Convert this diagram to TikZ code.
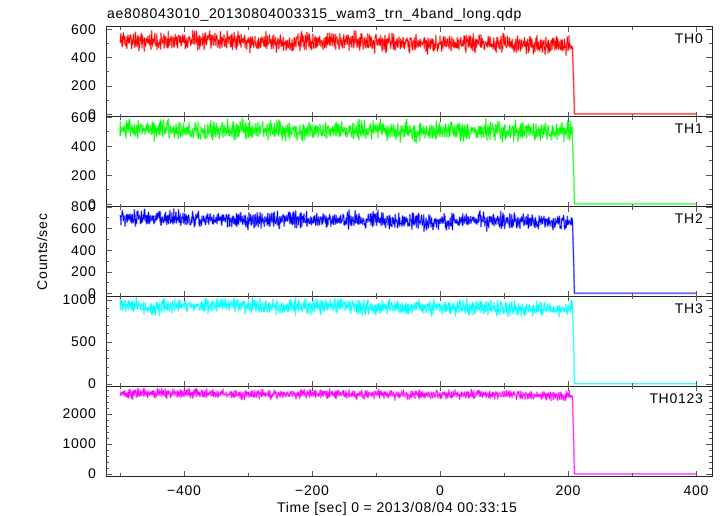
\documentclass[tikz,border=0pt]{standalone}
\usepackage{fontspec}
\setmainfont{Liberation Sans}[LetterSpace=5]
\definecolor{qred}{RGB}{255,0,0}
\definecolor{qgreen}{RGB}{0,255,0}
\definecolor{qblue}{RGB}{0,0,255}
\definecolor{qcyan}{RGB}{0,255,255}
\definecolor{qmag}{RGB}{255,0,255}
\tikzset{
 frameline/.style={draw=black!85, line width=1pt},
 tickline/.style={draw=black!65, line width=0.8pt},
 ylab/.style={anchor=east, inner sep=0pt},
 xlab/.style={anchor=base, inner sep=0pt},
 thlab/.style={anchor=base east, inner sep=0pt},
}
\newcommand\yticksp[5]{%
 \foreach \v in {0,#3,...,#4}{%
  \pgfmathsetmacro\L{ifthenelse(mod(\v,#5)==0,6,3)}%
  \draw[tickline] (106,{#1-#2*\v}) -- ++(\L,0);
  \draw[tickline] (712,{#1-#2*\v}) -- ++(-\L,0);
 }}
\newcommand\lcurve[7]{%
 \pgfmathsetseed{#2}%
 \draw[#1!40, line width=1.8pt, line join=round] plot[domain=-500:207, samples=1415] ({440+0.64*\x},{#3-#4*(#5+#6*(rand+rand+rand))}) -- ({440+0.64*209},{#3-#4*#7}) -- ({440+0.64*210},{#3-#4*3}) -- ({440+0.64*401},{#3-#4*3});
 \pgfmathsetseed{#2}%
 \draw[#1, line width=0.55pt, line join=round] plot[domain=-500:207, samples=1415] ({440+0.64*\x},{#3-#4*(#5+#6*(rand+rand+rand))}) -- ({440+0.64*209},{#3-#4*#7}) -- ({440+0.64*210},{#3-#4*3}) -- ({440+0.64*401},{#3-#4*3});
}
\begin{document}
\begin{tikzpicture}[x=1pt,y=-1pt,font=\fontsize{14}{16}\selectfont]
\path[use as bounding box, fill=white] (0,0) rectangle (723,516);
% data
\begin{scope}\clip (106,27) rectangle (712,116.8);
\lcurve{qred}{11}{114.3}{0.1415}{(528-0.055*(\x+500)+6*sin(1.7*\x))}{30}{190}
\end{scope}
\begin{scope}\clip (106,116.8) rectangle (712,206.6);
\lcurve{qgreen}{23}{204.3}{0.145}{(512-0.012*(\x+500)+5*sin(2.1*\x))}{30}{200}
\end{scope}
\begin{scope}\clip (106,206.6) rectangle (712,296.4);
\lcurve{qblue}{37}{293.5}{0.108}{(695-0.045*(\x+500)+7*sin(1.4*\x))}{35}{260}
\end{scope}
\begin{scope}\clip (106,296.4) rectangle (712,386.2);
\lcurve{qcyan}{41}{384}{0.084}{(940-0.06*(\x+500)-45*exp(-((\x+452)/12)^2)+8*sin(1.9*\x))}{40}{440}
\end{scope}
\begin{scope}\clip (106,386.2) rectangle (712,476);
\lcurve{qmag}{53}{474}{0.03}{(2690-0.09*(\x+500)+15*sin(1.6*\x))}{70}{970}
\end{scope}
% frame
\draw[frameline] (106,27) rectangle (712,476);
\foreach \yb in {116.8,206.6,296.4,386.2}{\draw[frameline] (106,\yb) -- (712,\yb);}
% x ticks
\foreach \t in {-500,-400,...,400}{%
 \pgfmathsetmacro\L{ifthenelse(mod(\t,200)==0,5,3)}%
 \foreach \yt/\yb in {27/116.8,116.8/206.6,206.6/296.4,296.4/386.2,386.2/476}{%
  \draw[tickline] ({440+0.64*\t},\yt) -- ++(0,\L);
  \draw[tickline] ({440+0.64*\t},\yb) -- ++(0,-\L);
 }}
% y ticks
\yticksp{114.3}{0.1415}{100}{600}{200}
\yticksp{204.3}{0.145}{100}{600}{200}
\yticksp{293.5}{0.108}{100}{800}{200}
\yticksp{384}{0.084}{100}{1000}{500}
\yticksp{474}{0.03}{200}{2800}{1000}
% y tick labels
\node[ylab] (p1a) at (96,{114.3-0.1415*600}) {600};
\node[ylab] (p1b) at (96,{114.3-0.1415*400}) {400};
\node[ylab] (p1c) at (96,{114.3-0.1415*200}) {200};
\node[ylab] (p1d) at (96,114.3) {0};
\node[ylab] (p2a) at (96,{204.3-0.145*600}) {600};
\node[ylab] (p2b) at (96,{204.3-0.145*400}) {400};
\node[ylab] (p2c) at (96,{204.3-0.145*200}) {200};
\node[ylab] (p2d) at (96,204.3) {0};
\node[ylab] (p3a) at (96,{293.5-0.108*800}) {800};
\node[ylab] (p3b) at (96,{293.5-0.108*600}) {600};
\node[ylab] (p3c) at (96,{293.5-0.108*400}) {400};
\node[ylab] (p3d) at (96,{293.5-0.108*200}) {200};
\node[ylab] (p3e) at (96,293.5) {0};
\node[ylab] (p4a) at (96,{384-0.084*1000}) {1000};
\node[ylab] (p4b) at (96,{384-0.084*500}) {500};
\node[ylab] (p4c) at (96,384) {0};
\node[ylab] (p5a) at (96,{474-0.03*2000}) {2000};
\node[ylab] (p5b) at (96,{474-0.03*1000}) {1000};
\node[ylab] (p5c) at (96,474) {0};
% x tick labels
\node[xlab] (xa) at ({440-0.64*400},495) {−400};
\node[xlab] (xb) at ({440-0.64*200},495) {−200};
\node[xlab] (xc) at (440,495) {0};
\node[xlab] (xd) at ({440+0.64*200},495) {200};
\node[xlab] (xe) at ({440+0.64*400},495) {400};
% panel labels
\node[thlab] (th0) at (703,44) {TH0};
\node[thlab] (th1) at (703,133.8) {TH1};
\node[thlab] (th2) at (703,223.6) {TH2};
\node[thlab] (th3) at (703,313.4) {TH3};
\node[thlab] (th4) at (703,403.2) {TH0123};
% titles
\node[anchor=base west, inner sep=0pt] (title) at (107,19) {ae808043010\_20130804003315\_wam3\_trn\_4band\_long.qdp};
\node[xlab] (xtitle) at (397,512) {Time [sec] 0 = 2013/08/04 00:33:15};
\node[rotate=90, inner sep=0pt] (ytitle) at (42,252) {Counts/sec};
\end{tikzpicture}
\end{document}
